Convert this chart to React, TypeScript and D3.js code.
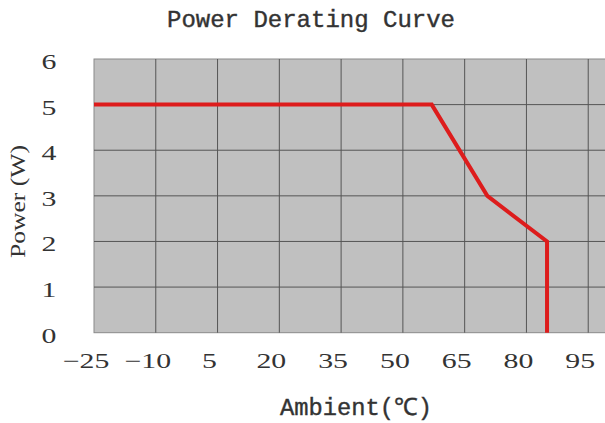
import * as d3 from "d3";

const xTicks = [-25, -10, 5, 20, 35, 50, 65, 80, 95, 110];
const xLabels = [-25, -10, 5, 20, 35, 50, 65, 80, 95];
const yTicks = [0, 1, 2, 3, 4, 5, 6];
const ambient = [-25, 57, 70.5, 85, 85];
const power = [5, 5, 3, 2, 0];

const W = 605;
const H = 423;

const x = d3.scaleLinear().domain([-25, 110]).range([94, 650]);
const y = d3.scaleLinear().domain([0, 6]).range([332.7, 59]);

const serif = "'Liberation Serif', 'Times New Roman', serif";
const mono = "'Liberation Mono', 'Courier New', monospace";

export default function App() {
  const line = d3
    .line<number>()
    .x((d, i) => x(ambient[i]))
    .y((d) => y(d));

  return (
    <svg
      width={W}
      height={H}
      style={{ position: "absolute", left: 0, top: 0, background: "#fff" }}
    >
      {/* title */}
      <text
        x={311}
        y={27}
        textAnchor="middle"
        fontFamily={mono}
        fontSize={24}
        fill="#333"
        stroke="#333"
        strokeWidth={0.4}
        textLength={288}
        lengthAdjust="spacingAndGlyphs"
      >
        Power Derating Curve
      </text>

      {/* plot background */}
      <rect
        x={x(-25)}
        y={y(6)}
        width={x(110) - x(-25)}
        height={y(0) - y(6)}
        fill="#c0c0c0"
        stroke="#8a8a8a"
        strokeWidth={1}
      />

      {/* grid */}
      {xTicks.slice(1).map((t) => (
        <line
          key={"gx" + t}
          x1={x(t)}
          x2={x(t)}
          y1={y(6)}
          y2={y(0)}
          stroke="#555"
          strokeWidth={1}
        />
      ))}
      {yTicks.slice(1, -1).map((t) => (
        <line
          key={"gy" + t}
          x1={x(-25)}
          x2={x(110)}
          y1={y(t)}
          y2={y(t)}
          stroke="#555"
          strokeWidth={1}
        />
      ))}

      {/* derating curve */}
      <path
        d={line(power) || ""}
        fill="none"
        stroke="#dd1c1c"
        strokeWidth={4}
        strokeLinejoin="miter"
      />

      {/* x tick labels */}
      {xLabels.map((t) => (
        <text
          key={"tx" + t}
          transform={`translate(${x(t) - 8},${367.7}) scale(1.42,1)`}
          textAnchor="middle"
          fontFamily={serif}
          fontSize={21}
          fill="#333"
        >
          {t < 0 ? "\u2212" + Math.abs(t) : t}
        </text>
      ))}

      {/* y tick labels */}
      {yTicks.map((t) => (
        <text
          key={"ty" + t}
          transform={`translate(49,${y(t) + 3}) scale(1.42,1)`}
          textAnchor="middle"
          dominantBaseline="central"
          fontFamily={serif}
          fontSize={21}
          fill="#333"
        >
          {t}
        </text>
      ))}

      {/* axis titles */}
      <text
        transform={`translate(24.5,201.5) rotate(-90)`}
        textAnchor="middle"
        fontFamily={serif}
        fontSize={22}
        fill="#333"
        textLength={113}
        lengthAdjust="spacingAndGlyphs"
      >
        Power (W)
      </text>
      <text
        x={356}
        y={415}
        textAnchor="middle"
        fontFamily={mono}
        fontSize={24}
        fill="#333"
        stroke="#333"
        strokeWidth={0.4}
        textLength={152}
        lengthAdjust="spacingAndGlyphs"
      >
        Ambient(℃)
      </text>
    </svg>
  );
}
